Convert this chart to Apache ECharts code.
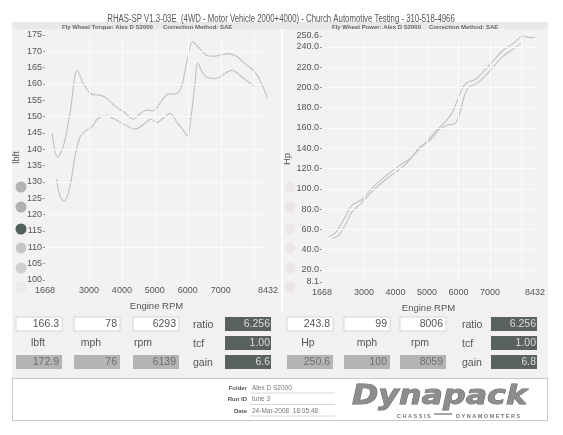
<!DOCTYPE html>
<html>
<head>
<meta charset="utf-8">
<title>Dynapack</title>
<script src="https://cdn.jsdelivr.net/npm/echarts@6/dist/echarts.min.js"></script>
<style>
html, body { margin: 0; padding: 0; background: #fff; }
#chart { width: 563px; height: 435px; }
</style>
</head>
<body>
<div id="chart"></div>
<script>
// torque, two runs (lbft vs rpm)
var torqueRpmA = [1890, 2052, 2224, 2426, 2648, 2830, 3082, 3335, 3537, 3789, 4092, 4345, 4547, 4749, 4951, 5153, 5405, 5658, 5809, 5960, 6139, 6213, 6365, 6567, 6769, 6970, 7223, 7476, 7728, 8031, 8233, 8415];
var torqueA = [144.9, 137.6, 140.9, 151.0, 164.2, 160.2, 156.9, 156.6, 155.6, 153.3, 151.2, 149.2, 150.8, 152.0, 151.8, 154.1, 156.9, 157.1, 159.2, 166.3, 172.9, 172.4, 170.8, 168.8, 168.5, 168.8, 169.3, 168.5, 166.3, 163.7, 160.2, 155.6];
var torqueRpmB = [2022, 2123, 2254, 2426, 2577, 2729, 2931, 3082, 3284, 3537, 3789, 4092, 4395, 4648, 4880, 5052, 5254, 5456, 5658, 5860, 5991, 6112, 6233, 6293, 6466, 6617, 6870, 7122, 7344, 7577, 7829, 8011];
var torqueB = [130.9, 125.6, 124.1, 128.7, 137.8, 143.7, 145.9, 146.8, 149.5, 150.2, 149.2, 147.5, 146.2, 147.5, 149.2, 148.2, 149.5, 151.0, 148.5, 145.9, 144.1, 151.0, 161.7, 166.3, 163.2, 161.9, 161.7, 163.2, 164.2, 162.7, 160.7, 159.4];

// power, two runs (Hp vs rpm)
var powerRpmA = [1878, 2090, 2407, 2618, 2935, 3305, 3728, 4151, 4468, 4785, 4997, 5261, 5578, 5789, 5948, 6106, 6265, 6529, 6793, 7110, 7427, 7745, 8059, 8167, 8294, 8432];
var powerA = [52.5, 56.5, 72.3, 83.8, 89.4, 101.9, 113.4, 123.3, 129.8, 141.3, 146.3, 156.2, 166.0, 174.3, 185.8, 197.9, 204.5, 207.8, 215.4, 226.2, 236.8, 243.3, 250.6, 250.0, 249.0, 249.3];
var powerRpmB = [1984, 2195, 2460, 2618, 2882, 3305, 3728, 4257, 4574, 4891, 5155, 5367, 5630, 5895, 6054, 6180, 6318, 6582, 6846, 7110, 7375, 7692, 8006];
var powerB = [50.9, 54.2, 67.3, 77.2, 84.8, 98.6, 110.1, 122.3, 133.1, 143.0, 149.6, 157.8, 162.7, 164.4, 175.9, 190.7, 199.9, 203.9, 211.1, 220.3, 229.5, 236.8, 243.8];

// axis ticks
var rpmTicks = [1668, 3000, 4000, 5000, 6000, 7000, 8432];
var powerTicks = [8.1, 20, 40, 60, 80, 100, 120, 140, 160, 180, 200, 220, 240, 250.6];
var rpmGrid = [3000, 4000, 5000, 6000, 7000, 8000];
var torqueGrid = [110, 120, 130, 140, 150, 160, 170];
var powerGrid = [20, 40, 60, 80, 100, 120, 140, 160, 180, 200, 220, 240];

// readout table
var torqueCursor = ['166.3', '78', '6293'];
var torquePeak = ['172.9', '76', '6139'];
var torqueUnits = ['lbft', 'mph', 'rpm'];
var torqueSide = ['6.256', '1.00', '6.6'];
var powerCursor = ['243.8', '99', '8006'];
var powerPeak = ['250.6', '100', '8059'];
var powerUnits = ['Hp', 'mph', 'rpm'];
var powerSide = ['6.256', '1.00', '6.8'];
var sideNames = ['ratio', 'tcf', 'gain'];

var title = 'RHAS-SP V1.3-03E  (4WD - Motor Vehicle 2000+4000) - Church Automotive Testing - 310-518-4966';
var footer = [['Folder', 'Alex D S2000'], ['Run ID', 'tune 3'], ['Date', '24-Mar-2008  18:05:48']];

var FONT = '"Liberation Sans", Arial, sans-serif';
var chart = echarts.init(document.getElementById('chart'));

function pairs(xs, ys) {
    return xs.map(function (x, i) { return [x, ys[i]]; });
}

function rect(x, y, w, h, fill, stroke, z) {
    return {
        type: 'rect', silent: true, z: z == null ? -10 : z,
        shape: { x: x, y: y, width: w, height: h },
        style: { fill: fill, stroke: stroke || null, lineWidth: 1 }
    };
}

function text(x, y, s, size, color, align, opts) {
    opts = opts || {};
    return {
        type: 'text', silent: true, z: 20, x: x, y: y,
        scaleX: opts.scaleX || 1,
        style: {
            text: s, fill: color, align: align || 'left', verticalAlign: 'middle',
            fontSize: size, fontFamily: opts.family || FONT,
            fontWeight: opts.weight || 'normal', fontStyle: opts.style || 'normal',
            stroke: opts.stroke || null, lineWidth: opts.lineWidth || 0
        }
    };
}

function gridLines(xs, ys) {
    return xs.map(function (v) { return { xAxis: v }; })
        .concat(ys.map(function (v) { return { yAxis: v }; }));
}

var g = [];
// panels
g.push(rect(12, 22, 269, 290, '#f3f1f2'));
g.push(rect(283, 22, 265, 290, '#f3f1f2'));
g.push(rect(12, 22, 536, 7, '#e9e7e8'));
g.push(rect(12, 312, 536, 66, '#f2f0f1'));
g.push(rect(12.5, 378.5, 535, 42, '#ffffff', '#c9c9c9'));

// title and subtitles
g.push(text(281, 19, title, 10, '#555', 'center', { scaleX: 0.78 }));
g.push(text(62, 27, 'Fly Wheel Torque: Alex D S2000', 6, '#666', 'left', { weight: 'bold' }));
g.push(text(163, 27, 'Correction Method: SAE', 6, '#666', 'left', { weight: 'bold' }));
g.push(text(332, 27, 'Fly Wheel Power: Alex D S2000', 6, '#666', 'left', { weight: 'bold' }));
g.push(text(429, 27, 'Correction Method: SAE', 6, '#666', 'left', { weight: 'bold' }));

// selector dots
var dotY = [187, 207, 229, 248, 268, 287];
var dotL = ['#b3b3b3', '#b0b0b0', '#50605c', '#c7c7c7', '#d0d0d0', '#ebe9ea'];
dotY.forEach(function (y, i) {
    g.push({ type: 'circle', silent: true, z: -5, shape: { cx: 21, cy: y, r: 5.5 }, style: { fill: dotL[i] } });
    g.push({ type: 'circle', silent: true, z: -5, shape: { cx: 290, cy: y, r: 5.5 }, style: { fill: '#ebe7e9' } });
});

// readout tables
function table(boxX, unitX, sideX, darkX, cursor, peak, units, side) {
    var rows = [317, 336, 355];
    for (var i = 0; i < 3; i++) {
        g.push(rect(boxX[i], rows[0], 46, 14, '#ffffff', '#d6d6d6', 10));
        g.push(text(boxX[i] + 43, rows[0] + 7, cursor[i], 10.5, '#555', 'right'));
        g.push(text(unitX[i], rows[1] + 7, units[i], 10.5, '#555', 'center'));
        g.push(rect(boxX[i], rows[2], 46, 14, '#b4b4b4', null, 10));
        g.push(text(boxX[i] + 43, rows[2] + 7, peak[i], 10.5, '#6e6e6e', 'right'));
        g.push(text(sideX, rows[i] + 8, sideNames[i], 10.5, '#555', 'left'));
        g.push(rect(darkX, rows[i], 46, 14, '#59625f', null, 10));
        g.push(text(darkX + 45, rows[i] + 7, side[i], 10.5, '#dcdcdc', 'right'));
    }
}
table([16, 74, 133], [38, 91, 143], 193, 225, torqueCursor, torquePeak, torqueUnits, torqueSide);
table([287, 344, 400], [308, 367, 420], 462, 491, powerCursor, powerPeak, powerUnits, powerSide);

// footer
footer.forEach(function (f, i) {
    var y = 388 + i * 11.5;
    g.push(text(247, y, f[0], 6, '#555', 'right', { weight: 'bold' }));
    g.push(text(252, y, f[1], 6.5, '#777', 'left'));
    g.push({ type: 'line', silent: true, z: 10, shape: { x1: 250, y1: y + 5, x2: 335, y2: y + 5 }, style: { stroke: '#d8d8d8', lineWidth: 1 } });
});
g.push(text(352, 397, 'Dynapack', 26, '#8d8d8d', 'left', {
    family: '"DejaVu Sans", sans-serif', weight: 'bold', style: 'italic',
    stroke: '#5f5f5f', lineWidth: 0.8, scaleX: 1.22
}));
g.push(text(397, 416, 'C H A S S I S', 5.5, '#777', 'left', { weight: 'bold' }));
g.push(text(456, 416, 'D Y N A M O M E T E R S', 5.5, '#777', 'left', { weight: 'bold' }));
g.push({ type: 'line', silent: true, z: 10, shape: { x1: 434, y1: 414, x2: 452, y2: 414 }, style: { stroke: '#888', lineWidth: 1.5 } });

var axisText = { color: '#555', fontSize: 9, fontFamily: FONT };

function xAxis(idx) {
    return {
        type: 'value', gridIndex: idx, min: 1668, max: 8432,
        name: 'Engine RPM', nameLocation: 'middle', nameGap: 21,
        nameTextStyle: { color: '#555', fontSize: 9.5, fontFamily: FONT },
        axisLine: { show: false }, axisTick: { show: false },
        axisLabel: Object.assign({
            customValues: rpmTicks, margin: 6,
            formatter: function (v) { return String(v); }
        }, axisText),
        splitLine: { show: false }
    };
}

function curve(name, data, idx) {
    return {
        name: name, type: 'line', xAxisIndex: idx, yAxisIndex: idx, data: data,
        smooth: 0.35, showSymbol: false, silent: true, z: 3,
        lineStyle: { color: '#c0c0c0', width: 1.1 }
    };
}

function gridSeries(idx, lines) {
    return {
        type: 'line', xAxisIndex: idx, yAxisIndex: idx, data: [], silent: true, z: 1,
        markLine: {
            silent: true, symbol: ['none', 'none'], label: { show: false }, animation: false,
            lineStyle: { color: '#fcfbfb', width: 1, type: 'solid' },
            data: lines
        }
    };
}

var option = {
    animation: false,
    backgroundColor: '#fff',
    grid: [
        { left: 45, top: 35, width: 223, height: 245 },
        { left: 322, top: 36, width: 213, height: 246 }
    ],
    xAxis: [xAxis(0), xAxis(1)],
    yAxis: [
        {
            type: 'value', gridIndex: 0, min: 100, max: 175, interval: 5,
            name: 'lbft', nameLocation: 'middle', nameGap: 24,
            nameTextStyle: { color: '#555', fontSize: 9.5, fontFamily: FONT },
            axisLine: { show: false },
            axisTick: { show: true, length: 2, lineStyle: { color: '#999' } },
            axisLabel: Object.assign({ margin: 3 }, axisText),
            splitLine: { show: false }
        },
        {
            type: 'value', gridIndex: 1, min: 8.1, max: 250.6,
            name: 'Hp', nameLocation: 'middle', nameGap: 29,
            nameTextStyle: { color: '#555', fontSize: 9.5, fontFamily: FONT },
            axisLine: { show: false },
            axisTick: { show: true, length: 2, customValues: powerTicks, lineStyle: { color: '#999' } },
            axisLabel: Object.assign({
                margin: 3, customValues: powerTicks,
                formatter: function (v) { return v.toFixed(1); }
            }, axisText),
            splitLine: { show: false }
        }
    ],
    series: [
        gridSeries(0, gridLines(rpmGrid, torqueGrid)),
        gridSeries(1, gridLines(rpmGrid, powerGrid)),
        curve('torque A', pairs(torqueRpmA, torqueA), 0),
        curve('torque B', pairs(torqueRpmB, torqueB), 0),
        curve('power A', pairs(powerRpmA, powerA), 1),
        curve('power B', pairs(powerRpmB, powerB), 1)
    ],
    graphic: { elements: g }
};

chart.setOption(option);
</script>
</body>
</html>
